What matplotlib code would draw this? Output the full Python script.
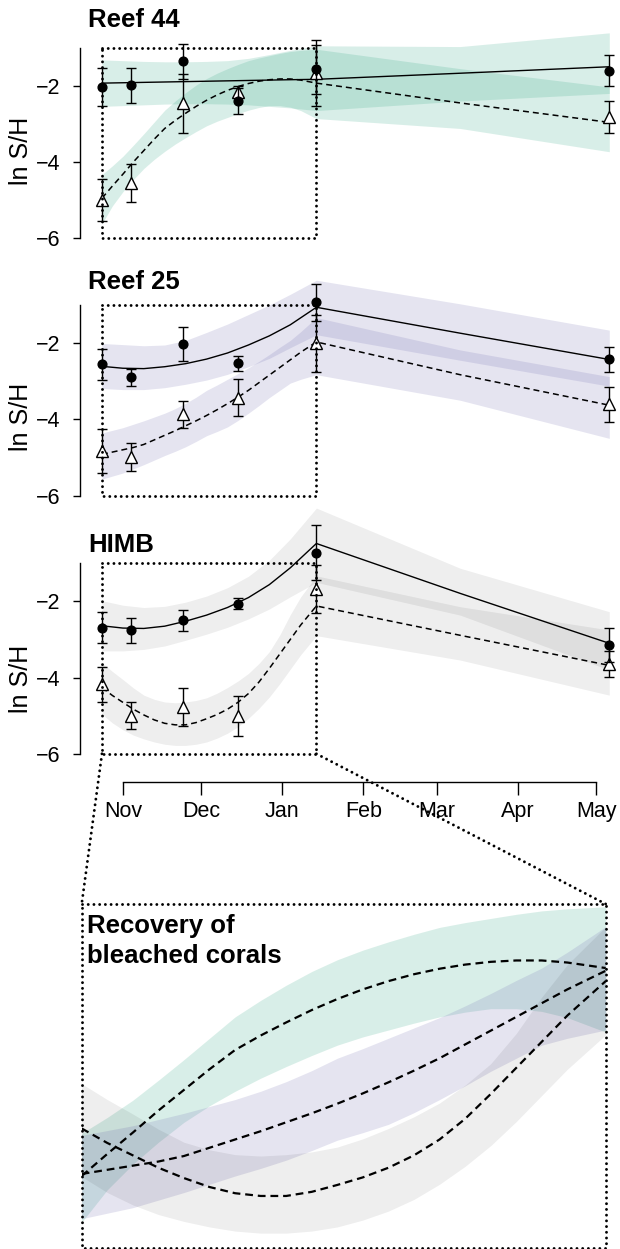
import matplotlib
matplotlib.use("Agg")
import matplotlib.pyplot as plt
from matplotlib.patches import ConnectionPatch

plt.rcParams['font.family'] = ['Liberation Sans', 'DejaVu Sans']

W, H = 620, 1249

# sampling days, counted from 1 November
days = [-8, 3, 23, 44, 74, 186]
health_days = [-8, 0, 8, 16, 24, 32, 40, 48, 56, 64, 74, 129, 186]
bleach_days = [-8, -4, 0, 4, 8, 12, 16, 20, 24, 28, 32, 36, 40, 44, 48, 52, 56, 60, 64, 68, 74, 129, 186]
n_zoom = 21  # first 21 bleach_days span the zoomed window (up to January)

month_days = [0, 30, 61, 92, 120, 151, 181]
month_labels = ["Nov", "Dec", "Jan", "Feb", "Mar", "Apr", "May"]

# Reef 44
r44_h = [-2.03, -1.99, -1.36, -2.40, -1.57, -1.60]
r44_h_se = [0.50, 0.47, 0.47, 0.35, 0.65, 0.40]
r44_b = [-5.00, -4.54, -2.46, -2.15, -1.67, -2.82]
r44_b_se = [0.55, 0.50, 0.78, 0.15, 0.86, 0.42]
r44_fit_h = [-1.93, -1.92, -1.91, -1.90, -1.89, -1.88, -1.87, -1.86, -1.85, -1.84, -1.83, -1.67, -1.50]
r44_h_lo = [-2.54, -2.52, -2.50, -2.48, -2.47, -2.47, -2.48, -2.50, -2.54, -2.58, -2.65, -2.40, -2.20]
r44_h_hi = [-1.32, -1.34, -1.36, -1.37, -1.37, -1.36, -1.34, -1.28, -1.18, -1.07, -0.95, -0.97, -0.61]
r44_fit_b = [-4.95, -4.63, -4.32, -4.00, -3.70, -3.40, -3.12, -2.91, -2.72, -2.54, -2.38, -2.24,
             -2.12, -2.02, -1.94, -1.88, -1.84, -1.82, -1.82, -1.85, -1.93, -2.45, -2.96]
r44_b_lo = [-5.62, -5.15, -4.78, -4.46, -4.17, -3.93, -3.72, -3.53, -3.36, -3.20, -3.05, -2.93,
            -2.83, -2.73, -2.64, -2.57, -2.52, -2.52, -2.56, -2.65, -2.86, -3.12, -3.73]
r44_b_hi = [-4.33, -4.10, -3.85, -3.56, -3.26, -2.95, -2.64, -2.40, -2.18, -1.98, -1.81, -1.67,
            -1.55, -1.44, -1.34, -1.27, -1.21, -1.15, -1.10, -1.07, -1.04, -1.55, -2.03]

# Reef 25
r25_h = [-2.56, -2.90, -2.03, -2.53, -0.93, -2.43]
r25_h_se = [0.41, 0.22, 0.44, 0.19, 0.48, 0.33]
r25_b = [-4.83, -4.99, -3.87, -3.43, -2.00, -3.61]
r25_b_se = [0.57, 0.37, 0.35, 0.48, 0.75, 0.46]
r25_fit_h = [-2.61, -2.66, -2.67, -2.62, -2.54, -2.42, -2.26, -2.05, -1.81, -1.52, -1.06, -1.74, -2.43]
r25_h_lo = [-3.19, -3.22, -3.22, -3.17, -3.08, -2.97, -2.82, -2.62, -2.40, -2.12, -1.78, -2.45, -3.13]
r25_h_hi = [-2.01, -2.04, -2.07, -2.05, -1.93, -1.72, -1.50, -1.25, -1.00, -0.72, -0.35, -0.97, -1.66]
r25_fit_b = [-4.92, -4.86, -4.80, -4.74, -4.66, -4.54, -4.42, -4.30, -4.17, -4.04, -3.90, -3.75,
             -3.59, -3.42, -3.24, -3.04, -2.84, -2.64, -2.44, -2.24, -1.97, -2.83, -3.63]
r25_b_lo = [-5.57, -5.49, -5.41, -5.30, -5.19, -5.07, -4.95, -4.84, -4.72, -4.58, -4.43, -4.32,
            -4.20, -4.03, -3.84, -3.64, -3.43, -3.24, -3.05, -2.95, -2.83, -3.50, -4.50]
r25_b_hi = [-4.36, -4.29, -4.22, -4.13, -4.04, -3.94, -3.84, -3.72, -3.58, -3.42, -3.24, -3.10,
            -2.95, -2.80, -2.65, -2.48, -2.30, -2.11, -1.93, -1.70, -1.33, -2.18, -2.88]

# HIMB
himb_h = [-2.69, -2.76, -2.50, -2.06, -0.72, -3.14]
himb_h_se = [0.41, 0.33, 0.27, 0.15, 0.72, 0.45]
himb_b = [-4.18, -5.00, -4.78, -5.00, -1.68, -3.64]
himb_b_se = [0.47, 0.36, 0.50, 0.53, 0.63, 0.35]
himb_fit_h = [-2.64, -2.70, -2.71, -2.65, -2.52, -2.36, -2.16, -1.90, -1.56, -1.12, -0.48, -1.79, -3.10]
himb_h_lo = [-3.30, -3.30, -3.26, -3.17, -3.02, -2.86, -2.68, -2.46, -2.20, -1.88, -1.50, -2.36, -3.80]
himb_h_hi = [-1.98, -2.10, -2.16, -2.13, -2.02, -1.86, -1.64, -1.34, -0.92, -0.36, 0.45, -1.13, -2.27]
himb_fit_b = [-4.26, -4.47, -4.65, -4.83, -4.98, -5.11, -5.20, -5.24, -5.24, -5.18, -5.08, -4.97,
              -4.83, -4.65, -4.42, -4.12, -3.76, -3.38, -3.00, -2.62, -2.12, -2.89, -3.68]
himb_b_lo = [-4.96, -5.19, -5.37, -5.51, -5.61, -5.69, -5.75, -5.78, -5.78, -5.75, -5.69, -5.59,
             -5.46, -5.29, -5.07, -4.81, -4.51, -4.16, -3.78, -3.40, -2.90, -3.54, -4.46]
himb_b_hi = [-3.61, -3.84, -4.05, -4.27, -4.46, -4.57, -4.64, -4.66, -4.64, -4.60, -4.53, -4.41,
             -4.26, -4.09, -3.89, -3.63, -3.32, -2.88, -2.35, -1.88, -1.33, -2.14, -2.75]

site_names = ["Reef 44", "Reef 25", "HIMB"]
site_colors = [("#1b9e77", 0.17), ("#7570b3", 0.19), ("#000000", 0.065)]

DOTS = (0, (0.01, 1.95))
DASH = (0, (3.9, 2.6))
DOT_LW = 2.1


fig = plt.figure(figsize=(W / 100, H / 100), dpi=100)


def px_axes(left, top, right, bottom):
    return fig.add_axes([left / W, 1 - bottom / H, (right - left) / W, (bottom - top) / H])


def zoom_box(ax):
    x0, x1 = days[0], days[4]
    ax.plot([x0, x1, x1, x0, x0], [-1, -1, -6, -6, -1], color="black", lw=DOT_LW,
            ls=DOTS, dash_capstyle="round", clip_on=False, zorder=6)


def draw_panel(ax, h, h_se, b, b_se, fit_h, h_lo, h_hi, fit_b, b_lo, b_hi, col):
    c, a = col
    ax.fill_between(health_days, h_lo, h_hi, color=c, alpha=a, lw=0)
    ax.fill_between(bleach_days, b_lo, b_hi, color=c, alpha=a, lw=0)
    ax.plot(health_days, fit_h, color="black", lw=1.0, zorder=3)
    ax.plot(bleach_days, fit_b, color="black", lw=1.1, ls=DASH, zorder=3)
    ax.errorbar(days, b, yerr=b_se, fmt="^", ms=8.5, mfc="white", mec="black", mew=1.0,
                ecolor="black", elinewidth=1.0, capsize=3.8, capthick=1.0, zorder=4)
    ax.errorbar(days, h, yerr=h_se, fmt="o", ms=6.3, color="black",
                elinewidth=1.0, capsize=3.8, capthick=1.0, zorder=5)
    zoom_box(ax)

    ax.set_xlim(-16.4, 190.1)
    ax.set_ylim(-7.0, 0.8)
    ax.patch.set_visible(False)
    for s in ["top", "right", "bottom"]:
        ax.spines[s].set_visible(False)
    ax.spines["left"].set_bounds(-6, -1)
    ax.spines["left"].set_linewidth(1.0)
    ax.set_yticks([-6, -4, -2])
    ax.tick_params(axis="y", length=5, width=1.0, labelsize=15.5, pad=9)
    ax.tick_params(axis="x", bottom=False, labelbottom=False)


tops = [47.7, 305.0, 563.3]
ppu = 38.1
site_data = [
    (r44_h, r44_h_se, r44_b, r44_b_se, r44_fit_h, r44_h_lo, r44_h_hi, r44_fit_b, r44_b_lo, r44_b_hi),
    (r25_h, r25_h_se, r25_b, r25_b_se, r25_fit_h, r25_h_lo, r25_h_hi, r25_fit_b, r25_b_lo, r25_b_hi),
    (himb_h, himb_h_se, himb_b, himb_b_se, himb_fit_h, himb_h_lo, himb_h_hi, himb_fit_b, himb_b_lo, himb_b_hi),
]
title_base = [26.7, 289.3, 551.7]
ylab_mid = [151, 417, 679]

axes = []
for i in range(3):
    ax = px_axes(80, tops[i] - 1.8 * ppu, 620, tops[i] + 6.0 * ppu)
    draw_panel(ax, *site_data[i], site_colors[i])
    fig.text(88.3 / W, 1 - title_base[i] / H, site_names[i], fontsize=18.5,
             fontweight="bold", va="baseline", ha="left")
    fig.text(21 / W, 1 - ylab_mid[i] / H, "ln S/H", fontsize=18, rotation=90,
             ha="center", va="center")
    axes.append(ax)

# shared date axis under the last panel
ax3 = axes[2]
ax3.spines["bottom"].set_visible(True)
ax3.spines["bottom"].set_position(("data", -6.74))
ax3.spines["bottom"].set_bounds(month_days[0], month_days[-1])
ax3.spines["bottom"].set_linewidth(1.0)
ax3.set_xticks(month_days, month_labels)
ax3.tick_params(axis="x", bottom=True, labelbottom=True, length=9.4, width=1.0,
                labelsize=15.5, pad=4)

# zoomed view of the bleached-coral fits
ax_in = px_axes(81.7, 904, 605.7, 1248.3)
ax_in.set_xlim(days[0], days[4])
ax_in.set_ylim(-6, -1)
ax_in.axis("off")
for (c, a), d in zip(site_colors, site_data):
    ax_in.fill_between(bleach_days[:n_zoom], d[8][:n_zoom], d[9][:n_zoom], color=c, alpha=a, lw=0)
for d in site_data:
    ax_in.plot(bleach_days[:n_zoom], d[7][:n_zoom], color="black", lw=1.6, ls=(0, (3.5, 2.2)))
x0, x1 = days[0], days[4]
ax_in.plot([x0, x1, x1, x0, x0], [-1, -1, -6, -6, -1], color="black", lw=DOT_LW,
           ls=DOTS, dash_capstyle="round", clip_on=False)
ax_in.text(87.3 / W, 1 - 933 / H, "Recovery of", transform=fig.transFigure,
           fontsize=18.5, fontweight="bold", va="baseline")
ax_in.text(87.3 / W, 1 - 963 / H, "bleached corals", transform=fig.transFigure,
           fontsize=18.5, fontweight="bold", va="baseline")

for xd in (days[0], days[4]):
    con = ConnectionPatch(xyA=(xd, -6), coordsA=ax3.transData,
                          xyB=(xd, -1), coordsB=ax_in.transData,
                          color="black", lw=DOT_LW, ls=DOTS)
    con.set_capstyle("round")
    fig.add_artist(con)

fig.savefig("out.png", dpi=100)
